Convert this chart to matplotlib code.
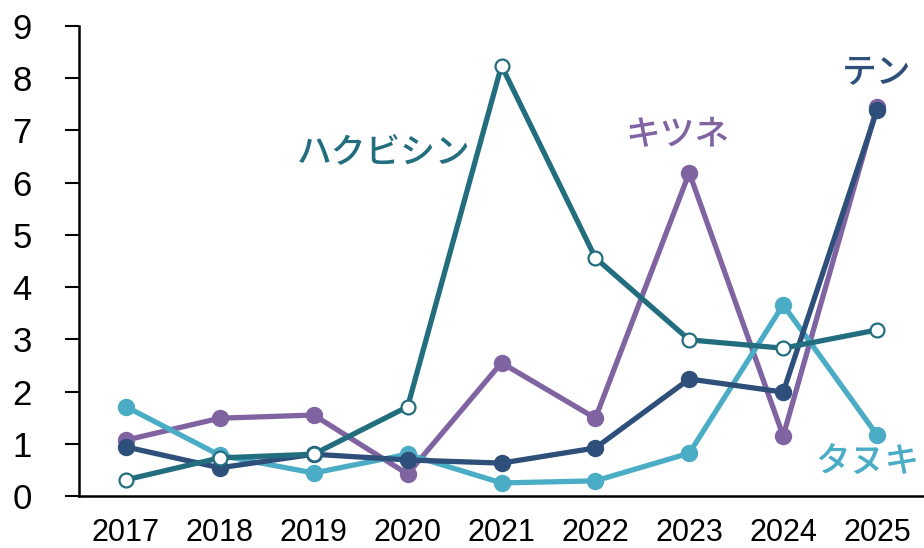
import matplotlib
matplotlib.use("Agg")
import matplotlib.pyplot as plt

years = [2017, 2018, 2019, 2020, 2021, 2022, 2023, 2024, 2025]

kitsune = [1.07, 1.49, 1.55, 0.42, 2.55, 1.49, 6.19, 1.15, 7.45]
tanuki = [1.71, 0.78, 0.44, 0.80, 0.25, 0.29, 0.82, 3.66, 1.17]
ten = [0.94, 0.54, 0.80, 0.69, 0.63, 0.92, 2.24, 1.99, 7.39]
hakubishin = [0.31, 0.73, 0.80, 1.71, 8.24, 4.56, 2.99, 2.83, 3.18]

c_kitsune = "#8064A2"
c_tanuki = "#4BACC6"
c_ten = "#2E4F7A"
c_haku = "#236E7E"

jp = ["Noto Sans CJK JP", "DejaVu Sans"]
plt.rcParams["font.family"] = ["Liberation Sans", "DejaVu Sans"]

W, H = 924, 548
fig = plt.figure(figsize=(W / 100, H / 100), dpi=100)
ax = fig.add_axes([79 / W, 1 - 496 / H, 845 / W, 470 / H])

lw = 3.8
ax.plot(years, kitsune, color=c_kitsune, lw=lw, marker="o", ms=11.5)
ax.plot(years, tanuki, color=c_tanuki, lw=lw, marker="o", ms=11.5)
ax.plot(years, ten, color=c_ten, lw=lw, marker="o", ms=11.5)
ax.plot(years, hakubishin, color=c_haku, lw=lw, marker="o", ms=10,
        markerfacecolor="white", markeredgecolor=c_haku, markeredgewidth=1.6)


def label(px, py, s, color):
    # positions in pixels measured from the top-left corner
    fig.text(px / W, 1 - py / H, s, color=color, fontsize=25, family=jp,
             fontweight="medium", ha="center", va="center")


label(384, 152, "ハクビシン", c_haku)
label(678, 135, "キツネ", c_kitsune)
label(877, 73, "テン", c_ten)
label(867, 462, "タヌキ", c_tanuki)

ax.set_xlim(2016.5, 2025.5)
ax.set_ylim(0, 9)
ax.set_xticks(years)
ax.set_yticks(range(0, 10))
ax.tick_params(axis="x", length=0, labelsize=22, pad=15.5)
ax.tick_params(axis="y", length=10, width=1.5, labelsize=25, pad=24)
ax.spines["top"].set_visible(False)
ax.spines["right"].set_visible(False)
for s in ("left", "bottom"):
    ax.spines[s].set_linewidth(1.8)

fig.savefig("out.png", dpi=100)
